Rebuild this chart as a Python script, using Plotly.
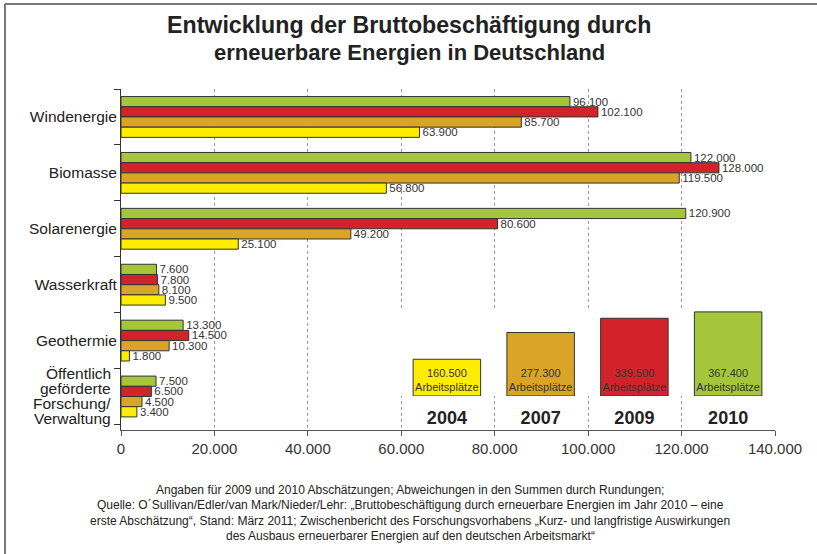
import plotly.graph_objects as go

# ---- data ----
categories = ["Windenergie", "Biomasse", "Solarenergie", "Wasserkraft", "Geothermie",
              "Öffentlich geförderte Forschung/Verwaltung"]
category_labels = ["Windenergie", "Biomasse", "Solarenergie", "Wasserkraft", "Geothermie", ""]
last_label_lines = ["Öffentlich", "geförderte", "Forschung/", "Verwaltung"]
years = ["2010", "2009", "2007", "2004"]
values_2010 = [96100, 122000, 120900, 7600, 13300, 7500]
values_2009 = [102100, 128000, 80600, 7800, 14500, 6500]
values_2007 = [85700, 119500, 49200, 8100, 10300, 4500]
values_2004 = [63900, 56800, 25100, 9500, 1800, 3400]
total_years = ["2004", "2007", "2009", "2010"]
totals = [160500, 277300, 339500, 367400]
x_ticks = [0, 20000, 40000, 60000, 80000, 100000, 120000, 140000]
title_lines = ["Entwicklung der Bruttobeschäftigung durch",
               "erneuerbare Energien in Deutschland"]
footnote_lines = [
    "Angaben für 2009 und 2010 Abschätzungen; Abweichungen in den Summen durch Rundungen;",
    "Quelle: O´Sullivan/Edler/van Mark/Nieder/Lehr: „Bruttobeschäftigung durch erneuerbare Energien im Jahr 2010 – eine",
    "erste Abschätzung“, Stand: März 2011; Zwischenbericht des Forschungsvorhabens „Kurz- und langfristige Auswirkungen",
    "des Ausbaus erneuerbarer Energien auf den deutschen Arbeitsmarkt“",
]

colors = {"2010": "#A5C63A", "2009": "#D2232A", "2007": "#DAA426", "2004": "#FFED00"}
series = {"2010": values_2010, "2009": values_2009, "2007": values_2007, "2004": values_2004}

FONT = "Liberation Sans, Arial, Helvetica, sans-serif"
TXT = dict(size=11.5, color="#333333", family=FONT)


def de(v):
    return f"{v:,}".replace(",", ".")


fig = go.Figure()
for y in years:
    vals = series[y]
    fig.add_trace(go.Bar(
        y=categories, x=vals, orientation="h", name=y,
        marker=dict(color=colors[y], line=dict(color="#333333", width=1)),
        text=[de(v) for v in vals], textposition="outside", constraintext="none",
        textangle=0, textfont=TXT, outsidetextfont=TXT,
        cliponaxis=False, showlegend=False, hoverinfo="skip",
    ))

# inset totals boxes
BOX_TXT = dict(size=11, color="#333333", family=FONT)
fig.add_trace(go.Bar(
    x=total_years, y=totals, xaxis="x2", yaxis="y2", width=0.72,
    marker=dict(color=[colors[y] for y in total_years], line=dict(color="#333333", width=1)),
    text=[f"{de(t)}<br>Arbeitsplätze" for t in totals],
    textposition="inside", insidetextanchor="start", constraintext="none", textangle=0,
    textfont=BOX_TXT, insidetextfont=BOX_TXT,
    showlegend=False, hoverinfo="skip",
))

L, R, T, B = 121, 42, 89, 124
W, H = 817, 554
pw, ph = W - L - R, H - T - B


def px_x(px):
    return (px - L) / pw


def px_y(py):
    return (H - B - py) / ph


annotations = []
title_sizes = [23.2, 22]
for i, line in enumerate(title_lines):
    annotations.append(dict(
        text=f"<b>{line}</b>", xref="paper", yref="paper", x=px_x(409), y=px_y(25 + 27 * i),
        xanchor="center", yanchor="middle", showarrow=False,
        font=dict(size=title_sizes[i], color="#222222", family=FONT),
    ))
for i, line in enumerate(last_label_lines):
    annotations.append(dict(
        text=line, xref="paper", yref="y", x=0, y=categories[-1], xshift=-8,
        yshift=23 - 15 * i, xanchor="right", yanchor="middle", showarrow=False,
        font=dict(size=15.5, color="#222222", family=FONT),
    ))
for i, line in enumerate(footnote_lines):
    annotations.append(dict(
        text=line, xref="paper", yref="paper", x=px_x(410), y=px_y(490 + 15.3 * i),
        xanchor="center", yanchor="middle", showarrow=False,
        font=dict(size=12, color="#222222", family=FONT),
    ))

fig.update_layout(
    width=W, height=H,
    margin=dict(l=L, r=R, t=T, b=B),
    paper_bgcolor="white", plot_bgcolor="white",
    separators=",.", hovermode=False,
    barmode="group", bargap=0.27, bargroupgap=0,
    font=dict(family=FONT, color="#222222"),
    xaxis=dict(
        range=[0, 140000], tickvals=x_ticks, tickformat=",d", exponentformat="none",
        showgrid=True, gridcolor="#999999", griddash="dot", gridwidth=1,
        showline=True, linecolor="#555555", linewidth=1,
        ticks="outside", ticklen=5, tickcolor="#555555",
        tickfont=dict(size=15, color="#333333"), zeroline=False, fixedrange=True,
    ),
    yaxis=dict(
        autorange="reversed", tickson="boundaries", ticks="outside", ticklen=6,
        tickcolor="#333333", showline=True, linecolor="#333333", linewidth=1,
        tickmode="array", tickvals=categories, ticktext=category_labels,
        tickfont=dict(size=15.5, color="#222222"), showgrid=False, automargin=False,
        fixedrange=True,
    ),
    xaxis2=dict(
        domain=[px_x(400), 1.0], anchor="y2", showgrid=False, showline=False,
        ticks="", tickfont=dict(size=18, color="#222222", family=FONT),
        tickprefix="<b>", ticksuffix="</b>", ticklabelstandoff=9,
        categoryorder="array", categoryarray=total_years, fixedrange=True,
    ),
    yaxis2=dict(
        domain=[px_y(396), px_y(309)], anchor="x2", range=[0, 380000],
        visible=False, showgrid=False, fixedrange=True,
    ),
    shapes=[
        dict(type="line", xref="paper", yref="paper", x0=px_x(5), x1=px_x(817),
             y0=px_y(4), y1=px_y(4), line=dict(color="#777777", width=2)),
        dict(type="line", xref="paper", yref="paper", x0=px_x(5), x1=px_x(5),
             y0=px_y(4), y1=px_y(560), line=dict(color="#777777", width=2)),
    ],
    annotations=annotations,
)

fig.write_html(
    "out.html",
    config={"displayModeBar": False, "staticPlot": True},
    post_script="document.body.style.margin='0';document.body.style.overflow='hidden';",
)
